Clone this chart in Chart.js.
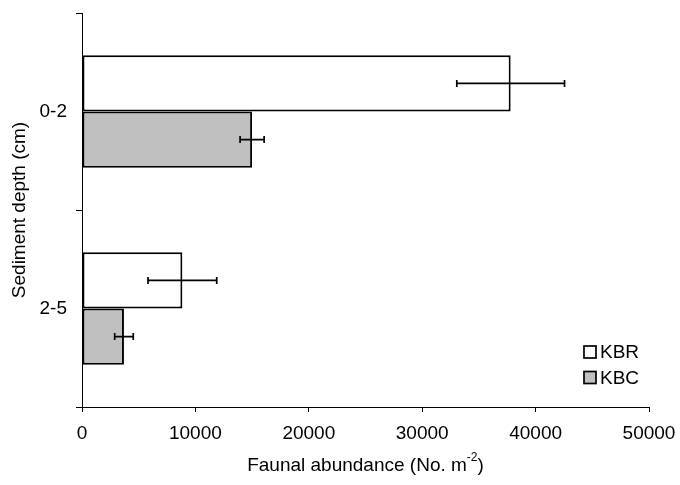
<!DOCTYPE html>
<html>
<head>
<meta charset="utf-8">
<script src="https://cdn.jsdelivr.net/npm/chart.js@4"></script>
<style>
  html, body { margin: 0; padding: 0; background: #fff; }
  #wrap { width: 680px; height: 485px; position: relative; }
</style>
</head>
<body>
<div id="wrap"><canvas id="c" width="680" height="485"></canvas></div>
<script>
const categories = ['0-2', '2-5'];
const seriesNames = ['KBR', 'KBC'];
const kbrValues = [37800, 8850];
const kbrErrors = [4750, 3030];
const kbcValues = [15000, 3700];
const kbcErrors = [1060, 820];
const xTicks = [0, 10000, 20000, 30000, 40000, 50000];
const xTitleMain = 'Faunal abundance (No. m';
const xTitleSup = '-2';
const xTitleEnd = ')';
const yTitle = 'Sediment depth (cm)';

const FONT = "'Liberation Sans', Arial, sans-serif";

const errorBarPlugin = {
  id: 'errorBars',
  afterDatasetsDraw(chart) {
    const ctx = chart.ctx;
    const xs = chart.scales.x;
    ctx.save();
    ctx.strokeStyle = '#000';
    ctx.lineWidth = 1.7;
    chart.data.datasets.forEach((ds, di) => {
      const meta = chart.getDatasetMeta(di);
      meta.data.forEach((bar, i) => {
        const v = ds.data[i], e = ds.errors[i];
        const x1 = xs.getPixelForValue(v - e);
        const x2 = xs.getPixelForValue(v + e);
        const y = bar.y;
        ctx.beginPath();
        ctx.moveTo(x1, y); ctx.lineTo(x2, y);
        ctx.moveTo(x1, y - 3.5); ctx.lineTo(x1, y + 3.5);
        ctx.moveTo(x2, y - 3.5); ctx.lineTo(x2, y + 3.5);
        ctx.stroke();
      });
    });
    ctx.restore();
  }
};

const extrasPlugin = {
  id: 'extras',
  afterDraw(chart) {
    const ctx = chart.ctx;
    const area = chart.chartArea;
    ctx.save();
    // x axis title with superscript
    ctx.fillStyle = '#000';
    ctx.textBaseline = 'middle';
    const mainFont = '19px ' + FONT;
    const supFont = '12px ' + FONT;
    ctx.font = mainFont;
    const w1 = ctx.measureText(xTitleMain).width;
    const w3 = ctx.measureText(xTitleEnd).width;
    ctx.font = supFont;
    const w2 = ctx.measureText(xTitleSup).width;
    const total = w1 + w2 + w3;
    let x = (area.left + area.right) / 2 - total / 2;
    const y = 466;
    ctx.textAlign = 'left';
    ctx.font = mainFont;
    ctx.fillText(xTitleMain, x, y);
    ctx.font = supFont;
    ctx.fillText(xTitleSup, x + w1, y - 8);
    ctx.font = mainFont;
    ctx.fillText(xTitleEnd, x + w1 + w2, y);

    // legend
    const colors = chart.data.datasets.map(d => d.backgroundColor);
    const lx = area.right - 65;
    const ly0 = area.bottom - 61;
    ctx.font = '19px ' + FONT;
    seriesNames.forEach((name, i) => {
      const ly = ly0 + i * 25.5;
      ctx.fillStyle = colors[i];
      ctx.fillRect(lx, ly, 12, 12);
      ctx.strokeStyle = '#000';
      ctx.lineWidth = 1.7;
      ctx.strokeRect(lx, ly, 12, 12);
      ctx.fillStyle = '#000';
      ctx.fillText(name, lx + 16, ly + 7);
    });
    ctx.restore();
  }
};

new Chart(document.getElementById('c'), {
  type: 'bar',
  data: {
    labels: categories,
    datasets: [
      { label: seriesNames[0], data: kbrValues, errors: kbrErrors, backgroundColor: '#ffffff', borderColor: '#000', borderWidth: 2, borderSkipped: false },
      { label: seriesNames[1], data: kbcValues, errors: kbcErrors, backgroundColor: '#c0c0c0', borderColor: '#000', borderWidth: 2, borderSkipped: false }
    ]
  },
  options: {
    indexAxis: 'y',
    responsive: false,
    animation: false,
    devicePixelRatio: 1,
    categoryPercentage: 0.57,
    barPercentage: 1,
    layout: { padding: { top: 13, right: 31, left: 0, bottom: 0 } },
    plugins: { legend: { display: false }, tooltip: { enabled: false } },
    scales: {
      y: {
        type: 'category',
        grid: { drawOnChartArea: false, drawTicks: true, tickLength: 6, color: '#000', offset: true, lineWidth: 1 },
        border: { display: true, color: '#000', width: 1 },
        ticks: { color: '#000', font: { family: FONT, size: 19 }, padding: 9 },
        title: { display: true, text: yTitle, color: '#000', font: { family: FONT, size: 19 }, padding: { top: 8, bottom: 0 } },
        afterFit(s) { s.width = 82; s.paddingTop = 0; s.paddingBottom = 0; s.paddingLeft = 0; s.paddingRight = 0; }
      },
      x: {
        type: 'linear',
        min: 0, max: 50000,
        afterBuildTicks(s) { s.ticks = xTicks.map(v => ({ value: v })); },
        grid: { drawOnChartArea: false, drawTicks: true, tickLength: 5, color: '#000', lineWidth: 1 },
        border: { display: true, color: '#000', width: 1 },
        ticks: { color: '#000', font: { family: FONT, size: 19 }, padding: 10, maxRotation: 0, callback: v => String(v) },
        afterFit(s) { s.height = 78; s.paddingTop = 0; s.paddingBottom = 0; s.paddingLeft = 0; s.paddingRight = 0; }
      }
    }
  },
  plugins: [errorBarPlugin, extrasPlugin]
});
</script>
</body>
</html>
